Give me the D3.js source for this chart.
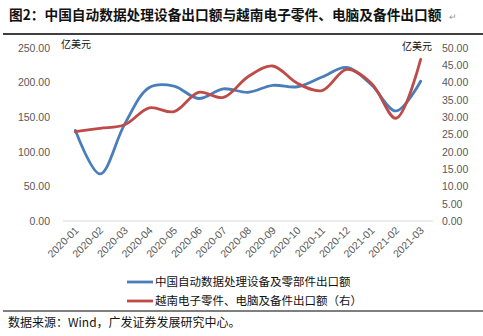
<!DOCTYPE html>
<html><head><meta charset="utf-8">
<script src="https://cdn.jsdelivr.net/npm/d3@7"></script>
<style>body{margin:0;background:#fff}svg{display:block}</style>
</head><body>
<svg id="c" width="483" height="336"></svg>
<script>
const categories = ["2020-01","2020-02","2020-03","2020-04","2020-05","2020-06","2020-07","2020-08","2020-09","2020-10","2020-11","2020-12","2021-01","2021-02","2021-03"];
const chinaExports = [131, 68, 140, 193, 195, 177, 191, 186, 196, 194, 208, 222, 197, 159, 202];
const vietnamExports = [25.8, 26.8, 27.8, 32.7, 31.6, 37.2, 35.7, 41.7, 44.8, 39.8, 37.7, 43.8, 39.8, 29.7, 46.7];
const leftTicks = [0, 50, 100, 150, 200, 250];
const rightTicks = [0, 5, 10, 15, 20, 25, 30, 35, 40, 45, 50];
const seriesNames = ["中国自动数据处理设备及零部件出口额", "越南电子零件、电脑及备件出口额（右）"];
const colors = ["#4A7EBB", "#BE4B48"];

const svg = d3.select("#c");
const cjk = "'Noto Sans CJK SC', sans-serif";
const lat = "'Liberation Sans', Arial, sans-serif";

// title
svg.append("text").attr("x", 9).attr("y", 20).attr("font-family", cjk).attr("font-weight", "bold")
  .attr("font-size", 13.7).attr("fill", "#111").text("图2：中国自动数据处理设备出口额与越南电子零件、电脑及备件出口额");
svg.append("text").attr("x", 449).attr("y", 20).attr("font-family", cjk).attr("font-size", 9).attr("fill", "#999").text("↵");
svg.append("line").attr("x1", 3).attr("x2", 483).attr("y1", 34).attr("y2", 34).attr("stroke", "#000").attr("stroke-width", 1.5);
svg.append("line").attr("x1", 3).attr("x2", 483).attr("y1", 311).attr("y2", 311).attr("stroke", "#000").attr("stroke-width", 1.2);
svg.append("text").attr("x", 8).attr("y", 327).attr("font-family", cjk).attr("font-size", 12).attr("fill", "#111").text("数据来源：Wind，广发证券发展研究中心。");

const x = d3.scaleBand().domain(categories).range([63, 433]).padding(0);
const yL = d3.scaleLinear().domain([0, 250]).range([221, 48]);
const yR = d3.scaleLinear().domain([0, 50]).range([221, 48]);

// baseline
svg.append("line").attr("x1", 63).attr("x2", 433).attr("y1", yL(0)).attr("y2", yL(0)).attr("stroke", "#D9D9D9").attr("stroke-width", 1);

// left axis
const gL = svg.append("g").attr("transform", "translate(56,0)")
  .call(d3.axisLeft(yL).tickValues(leftTicks).tickFormat(d3.format(".2f")).tickSize(0).tickPadding(6));
gL.select(".domain").remove();
gL.selectAll("text").attr("font-family", lat).attr("font-size", 10.5).attr("fill", "#595959");

const gR = svg.append("g").attr("transform", "translate(436,0)")
  .call(d3.axisRight(yR).tickValues(rightTicks).tickFormat(d3.format(".2f")).tickSize(0).tickPadding(6));
gR.select(".domain").remove();
gR.selectAll("text").attr("font-family", lat).attr("font-size", 10.5).attr("fill", "#595959");

// x axis labels
const gX = svg.append("g").attr("transform", `translate(0,${yL(0)})`)
  .call(d3.axisBottom(x).tickSize(0).tickPadding(0));
gX.select(".domain").remove();
gX.selectAll("text").attr("font-family", lat).attr("font-size", 10.5).attr("fill", "#595959")
  .attr("text-anchor", "end").attr("dy", 0)
  .attr("transform", "translate(4,10) rotate(-45)");

// unit labels
svg.append("text").attr("x", 61).attr("y", 48).attr("font-family", cjk).attr("font-size", 10).attr("fill", "#111").text("亿美元");
svg.append("text").attr("x", 402).attr("y", 50).attr("font-family", cjk).attr("font-size", 10).attr("fill", "#111").text("亿美元");

const cx = d => x(d) + x.bandwidth() / 2;
const lineL = d3.line().x((d, i) => cx(categories[i])).y(d => yL(d)).curve(d3.curveCatmullRom.alpha(0.5));
const lineR = d3.line().x((d, i) => cx(categories[i])).y(d => yR(d)).curve(d3.curveCatmullRom.alpha(0.5));

svg.append("path").attr("d", lineL(chinaExports)).attr("fill", "none").attr("stroke", colors[0]).attr("stroke-width", 2.8).attr("stroke-linecap", "round");
svg.append("path").attr("d", lineR(vietnamExports)).attr("fill", "none").attr("stroke", colors[1]).attr("stroke-width", 2.8).attr("stroke-linecap", "round");

// legend
const lg = svg.append("g");
seriesNames.forEach((n, i) => {
  const yy = 282 + i * 19;
  lg.append("line").attr("x1", 127).attr("x2", 153).attr("y1", yy).attr("y2", yy).attr("stroke", colors[i]).attr("stroke-width", 2.8);
  lg.append("text").attr("x", 155).attr("y", yy + 4).attr("font-family", cjk).attr("font-size", 11.5).attr("fill", "#111").text(n);
});
</script>
</body></html>
